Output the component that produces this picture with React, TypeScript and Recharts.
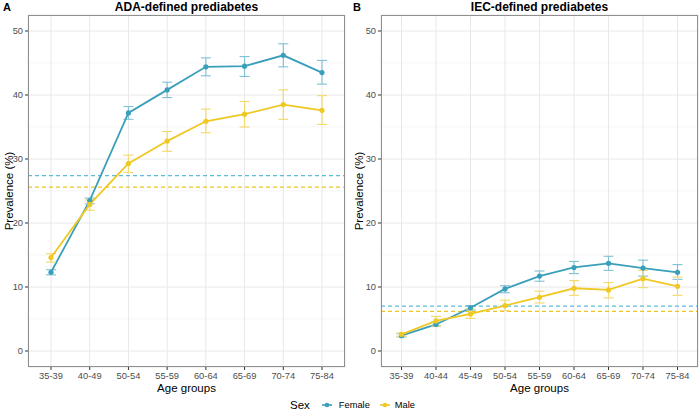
import React from 'react';
import {
  LineChart,
  Line,
  XAxis,
  YAxis,
  CartesianGrid,
  ErrorBar,
  ReferenceLine,
} from 'recharts';

// Panel A: ADA-defined prediabetes
const ageGroupsA = ['35-39', '40-49', '50-54', '55-59', '60-64', '65-69', '70-74', '75-84'];
const femaleA = [12.3, 23.5, 37.2, 40.8, 44.4, 44.5, 46.2, 43.5];
const femaleALow = [11.9, 23.0, 36.2, 39.6, 43.0, 42.9, 44.4, 41.7];
const femaleAHigh = [12.7, 23.9, 38.2, 42.0, 45.8, 46.0, 48.0, 45.4];
const maleA = [14.6, 22.9, 29.3, 32.8, 35.9, 37.0, 38.5, 37.6];
const maleALow = [13.9, 22.0, 27.9, 31.2, 34.1, 35.0, 36.2, 35.4];
const maleAHigh = [15.2, 23.6, 30.6, 34.3, 37.8, 39.0, 40.8, 39.9];
const overallA = { female: 27.4, male: 25.6 };

// Panel B: IEC-defined prediabetes
const ageGroupsB = ['35-39', '40-44', '45-49', '50-54', '55-59', '60-64', '65-69', '70-74', '75-84'];
const femaleB = [2.4, 4.15, 6.75, 9.7, 11.7, 13.05, 13.7, 12.95, 12.3];
const femaleBLow = [2.2, 3.9, 6.4, 9.1, 10.9, 12.1, 12.6, 11.7, 11.2];
const femaleBHigh = [2.7, 4.5, 7.1, 10.2, 12.5, 14.0, 14.8, 14.2, 13.5];
const maleB = [2.6, 4.7, 5.8, 7.1, 8.4, 9.8, 9.55, 11.3, 10.1];
const maleBLow = [2.3, 3.9, 5.1, 6.3, 7.5, 8.7, 8.3, 9.9, 8.7];
const maleBHigh = [2.8, 5.4, 6.55, 7.95, 9.35, 11.0, 10.7, 12.6, 11.55];
const overallB = { female: 7.0, male: 6.2 };

const yTicks = [0, 10, 20, 30, 40, 50];
const yMinor = [5, 15, 25, 35, 45];

const FEMALE = '#3a9fbb';
const FEMALE_LIGHT = '#7fc1d4';
const MALE = '#efc824';
const MALE_LIGHT = '#f3d868';
const FONT = '"Liberation Sans", Arial, Helvetica, sans-serif';

function buildRows(
  groups: string[],
  f: number[], fLo: number[], fHi: number[],
  m: number[], mLo: number[], mHi: number[],
) {
  return groups.map((g, i) => ({
    age: g,
    female: f[i],
    femaleErr: [f[i] - fLo[i], fHi[i] - f[i]],
    male: m[i],
    maleErr: [m[i] - mLo[i], mHi[i] - m[i]],
  }));
}

const dataA = buildRows(ageGroupsA, femaleA, femaleALow, femaleAHigh, maleA, maleALow, maleAHigh);
const dataB = buildRows(ageGroupsB, femaleB, femaleBLow, femaleBHigh, maleB, maleBLow, maleBHigh);

interface PanelProps {
  data: any[];
  left: number;
  yWidth: number;
  rightMargin: number;
  pad: number;
  letter: string;
  title: string;
  overall: { female: number; male: number };
}

function Panel({ data, left, yWidth, rightMargin, pad, letter, title, overall }: PanelProps) {
  const W = 350;
  const H = 413;
  const top = 15;
  const bottom = 367;
  const plotLeft = yWidth;
  const plotW = W - yWidth - rightMargin;
  const cx = plotLeft + plotW / 2;
  const tick = { fontSize: 9.3, fill: '#4d4d4d', fontFamily: FONT };

  return (
    <div style={{ position: 'absolute', left, top: 0, width: W, height: H }}>
      <LineChart
        width={W}
        height={H}
        data={data}
        margin={{ top, right: rightMargin, bottom: 0, left: 0 }}
      >
        <CartesianGrid
          vertical={false}
          horizontalValues={yMinor}
          stroke="#f2f2f2"
          strokeWidth={0.7}
        />
        <CartesianGrid stroke="#e8e8e8" strokeWidth={1} />
        <XAxis
          dataKey="age"
          height={H - bottom}
          padding={{ left: pad, right: pad }}
          tick={tick}
          tickSize={3}
          tickMargin={2}
          axisLine={false}
          tickLine={{ stroke: '#333' }}
          interval={0}
        />
        <YAxis
          type="number"
          domain={[-2.5, 52.5]}
          ticks={yTicks}
          width={yWidth}
          tick={tick}
          tickSize={3}
          tickMargin={2}
          axisLine={false}
          tickLine={{ stroke: '#333' }}
          allowDataOverflow
        />
        <ReferenceLine
          y={overall.female}
          stroke="#5cbcd4"
          strokeWidth={1.3}
          strokeDasharray="4 3"
        />
        <ReferenceLine
          y={overall.male}
          stroke="#ebc520"
          strokeWidth={1.3}
          strokeDasharray="4 3"
        />
        <Line
          dataKey="female"
          stroke={FEMALE}
          strokeWidth={1.8}
          dot={{ r: 2.6, fill: FEMALE, stroke: FEMALE, strokeWidth: 0 }}
          isAnimationActive={false}
        >
          <ErrorBar dataKey="femaleErr" direction="y" width={5} stroke={FEMALE_LIGHT} strokeWidth={1.1} />
        </Line>
        <Line
          dataKey="male"
          stroke={MALE}
          strokeWidth={1.8}
          dot={{ r: 2.6, fill: MALE, stroke: MALE, strokeWidth: 0 }}
          isAnimationActive={false}
        >
          <ErrorBar dataKey="maleErr" direction="y" width={5} stroke={MALE_LIGHT} strokeWidth={1.1} />
        </Line>
      </LineChart>

      {/* panel border */}
      <div
        style={{
          position: 'absolute',
          left: plotLeft,
          top,
          width: plotW,
          height: bottom - top,
          border: '1px solid #8f8f8f',
          boxSizing: 'border-box',
          pointerEvents: 'none',
        }}
      />

      <div style={{ position: 'absolute', left: 3, top: 1, fontSize: 11, fontWeight: 'bold', fontFamily: FONT, lineHeight: '13px' }}>
        {letter}
      </div>
      <div
        style={{
          position: 'absolute', left: cx - 120, width: 240, top: 1, textAlign: 'center',
          fontSize: 12, fontWeight: 'bold', fontFamily: FONT, lineHeight: '13px',
        }}
      >
        {title}
      </div>
      <div
        style={{
          position: 'absolute', left: cx - 60, width: 120, top: 382, textAlign: 'center',
          fontSize: 11.5, fontFamily: FONT, lineHeight: '13px',
        }}
      >
        Age groups
      </div>
      <div
        style={{
          position: 'absolute', left: 9 - 60, top: (top + bottom) / 2 - 7, width: 120, textAlign: 'center',
          fontSize: 11.5, fontFamily: FONT, lineHeight: '14px', transform: 'rotate(-90deg)',
        }}
      >
        Prevalence (%)
      </div>
    </div>
  );
}

function LegendKey({ color }: { color: string }) {
  return (
    <svg width={14} height={10} style={{ display: 'inline-block', verticalAlign: 'middle' }}>
      <line x1={2} y1={5} x2={12} y2={5} stroke={color} strokeWidth={1.6} />
      <circle cx={7} cy={5} r={2.3} fill={color} />
    </svg>
  );
}

export default function App() {
  return (
    <div style={{ position: 'absolute', left: 0, top: 0, width: 700, height: 413, background: '#fff', fontFamily: FONT }}>
      <Panel
        data={dataA}
        left={0}
        yWidth={28}
        rightMargin={5}
        pad={23}
        letter="A"
        title="ADA-defined prediabetes"
        overall={overallA}
      />
      <Panel
        data={dataB}
        left={350}
        yWidth={31}
        rightMargin={2}
        pad={20.5}
        letter="B"
        title="IEC-defined prediabetes"
        overall={overallB}
      />
      <div
        style={{
          position: 'absolute', left: 290, top: 398, height: 14, display: 'flex', alignItems: 'center',
          fontFamily: FONT, whiteSpace: 'nowrap',
        }}
      >
        <span style={{ fontSize: 11.5, marginRight: 10 }}>Sex</span>
        <LegendKey color={FEMALE} />
        <span style={{ fontSize: 9.3, marginLeft: 5, marginRight: 8 }}>Female</span>
        <LegendKey color={MALE} />
        <span style={{ fontSize: 9.3, marginLeft: 3 }}>Male</span>
      </div>
    </div>
  );
}
